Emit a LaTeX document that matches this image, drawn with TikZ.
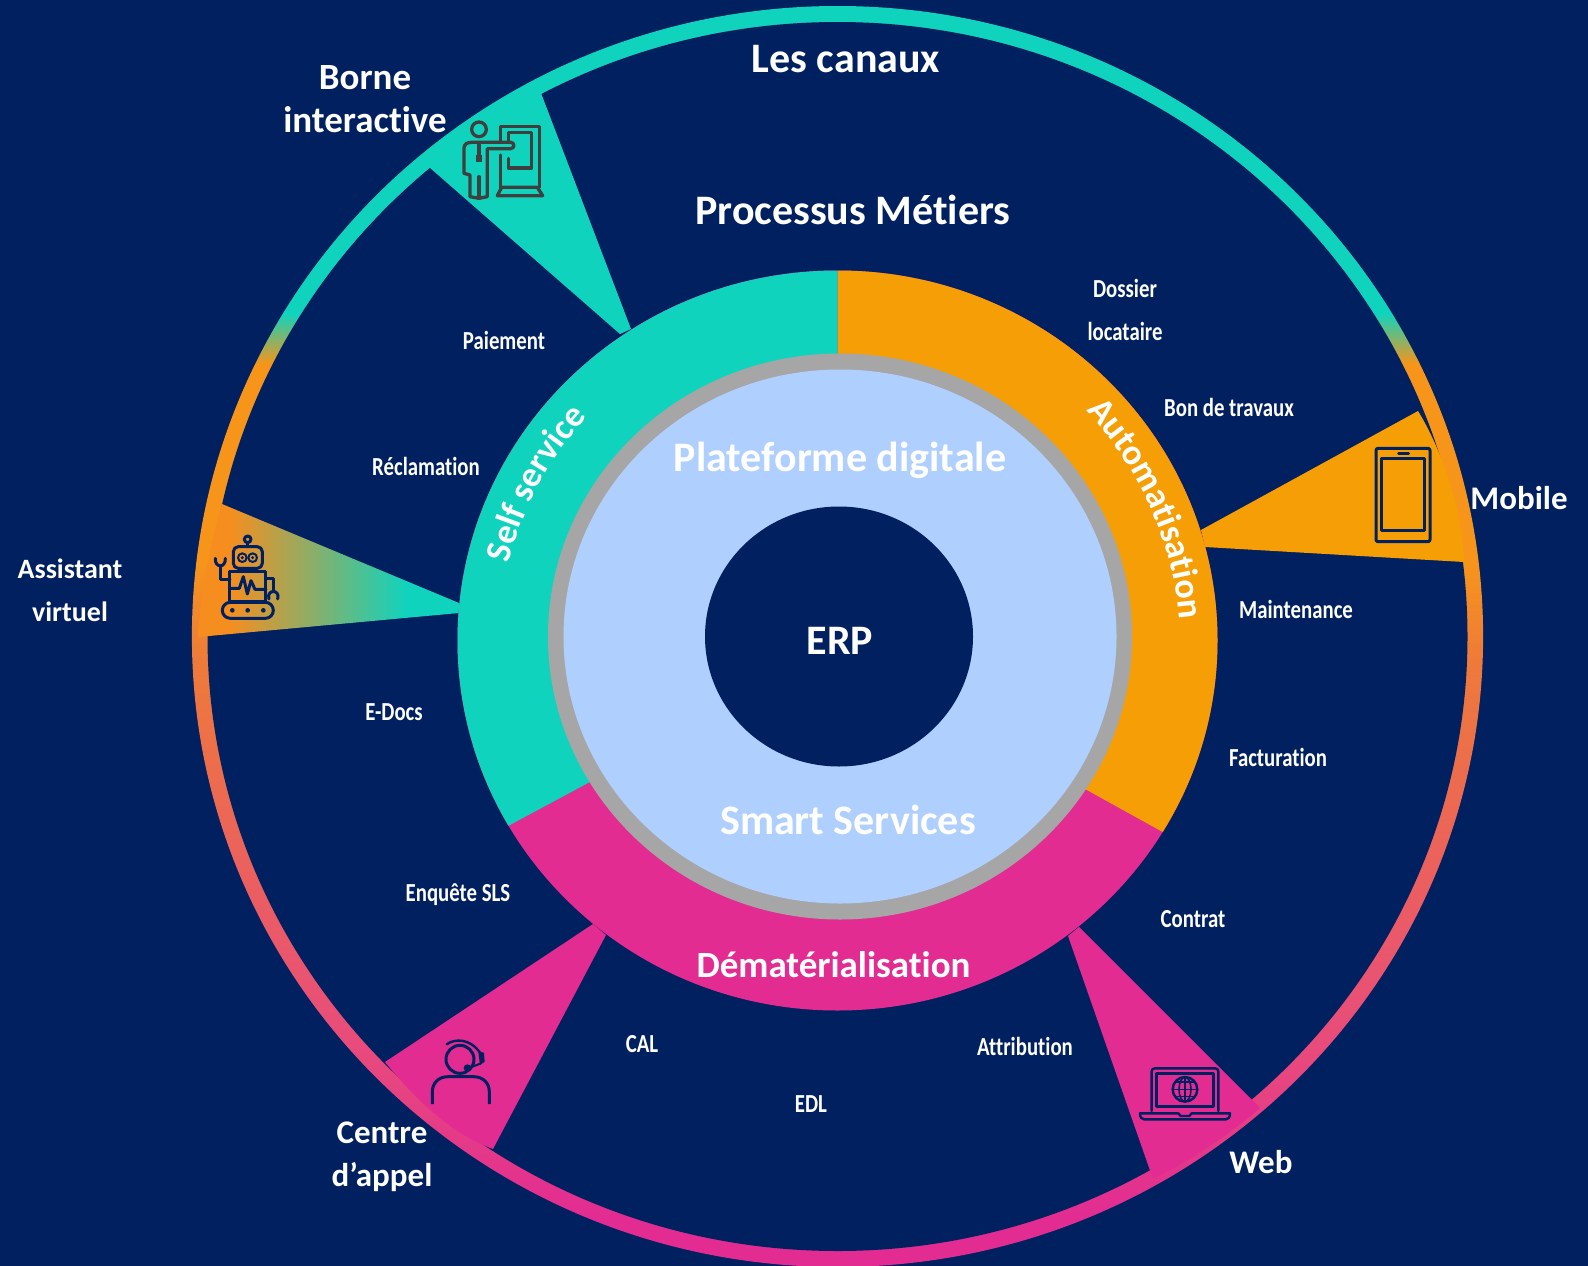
\documentclass[tikz,border=0pt]{standalone}
\usepackage{fontspec}
\setmainfont[Ligatures=NoCommon]{Carlito}
\newfontfamily\narrowfont[FakeStretch=0.8,Ligatures=NoCommon]{Carlito}
\usetikzlibrary{decorations.text}
\definecolor{bgblue}{HTML}{002060}
\definecolor{tealx}{HTML}{10D3BD}
\definecolor{orangex}{HTML}{F59E05}
\definecolor{pinkx}{HTML}{E22C92}
\definecolor{grayx}{HTML}{A6A6A6}
\definecolor{lightx}{HTML}{AFCFFE}
\definecolor{ringorange}{HTML}{F6951A}
\definecolor{ringmid}{HTML}{EE7A3A}
\definecolor{ringrose}{HTML}{E84C7B}
\definecolor{wedgeorange}{HTML}{F68E1F}
\definecolor{icongray}{HTML}{3F3F3F}
\pgfdeclareverticalshading{ringshade}{100bp}{color(0bp)=(pinkx); color(27bp)=(pinkx); color(34bp)=(ringrose); color(49bp)=(ringmid); color(53bp)=(ringorange); color(60.8bp)=(ringorange); color(62.8bp)=(tealx); color(100bp)=(tealx)}
\pgfdeclarehorizontalshading{wedgeshade}{100bp}{color(0bp)=(wedgeorange); color(31bp)=(wedgeorange); color(65bp)=(tealx); color(100bp)=(tealx)}
\tikzset{
  biglabel/.style={text=white, font=\fontsize{42}{42}\selectfont\bfseries, inner sep=0pt, align=center},
  midlabel/.style={text=white, font=\fontsize{37}{42}\selectfont\bfseries, inner sep=0pt, align=center},
  chanlabel/.style={text=white, font=\fontsize{33}{43}\selectfont\bfseries, inner sep=0pt, align=center},
  bornelabel/.style={text=white, font=\fontsize{37}{43}\selectfont\bfseries, inner sep=0pt, align=center},
  assistlabel/.style={text=white, font=\fontsize{28}{43}\selectfont\bfseries, inner sep=0pt, align=center},
  smalllabel/.style={text=white, font=\narrowfont\fontsize{26}{43}\selectfont\bfseries, inner sep=0pt, align=center},
  iconline/.style={line width=3pt, line join=round, line cap=round, draw=bgblue},
  kioskline/.style={line width=3.3pt, line join=round, line cap=round, draw=icongray},
}
\begin{document}
\begin{tikzpicture}[x=1pt,y=-1pt]
\useasboundingbox (0,0) rectangle (1588,1266);
\clip (0,0) rectangle (1588,1266);
\fill[bgblue] (0,0) rectangle (1588,1266);
\coordinate (c) at (837.5,636.5);
% outer ring
\shade[shading=ringshade] (c) ellipse [x radius=645.6, y radius=630.5];
\fill[bgblue] (c) ellipse [x radius=630, y radius=614.5];
% wedges
\fill[tealx] (541,93) -- (631,329) -- (620,334) -- (429,167) .. controls (455,135) and (500,105) .. cycle;
\fill[orangex] (1418,411) .. controls (1436,440) and (1462,500) .. (1464,562) -- (1205,547) -- (1201,530) -- cycle;
\fill[pinkx] (606,935) -- (493,1149) .. controls (455,1135) and (420,1105) .. (385,1062) -- (593,924) -- cycle;
\fill[pinkx] (1068,936) -- (1153,1179) .. controls (1190,1160) and (1225,1138) .. (1260,1108) -- (1079,927) -- cycle;
\shade[shading=wedgeshade] (222,504) -- (459,603) -- (459,613) -- (198,637) .. controls (201,590) and (210,545) .. cycle;
% inner coloured ring
\fill[pinkx] (837.5,640.5) ellipse [x radius=380, y radius=370];
\begin{scope}
\clip (837.5,640.5) ellipse [x radius=380, y radius=370];
\fill[orangex] (837.5,652) -- (837.5,200) -- (1300,200) -- (1300,908) -- cycle;
\fill[tealx] (837.5,649) -- (837.5,200) -- (400,200) -- (400,884) -- cycle;
\end{scope}
\fill[grayx] (840,636.5) ellipse [x radius=292, y radius=283];
\fill[lightx] (840,636.5) ellipse [x radius=276.5, y radius=267];
\fill[bgblue] (839,636.5) ellipse [x radius=134, y radius=130];
% curved labels
\path[decorate, decoration={text along path, text align=center, text color=white, text={|\fontsize{36}{36}\selectfont\bfseries|Self service}}]
  (509.1,562.7) .. controls (522,508.5) and (548.9,458.3) .. (587.1,417);
\path[decorate, decoration={text along path, text align=center, text color=white, text={|\fontsize{36}{36}\selectfont\bfseries|Automatisation}}]
  (1072,396) .. controls (1136,458) and (1178.9,546.2) .. (1180.4,640);
% labels
\node[biglabel] (canaux) at (846,59) {Les canaux};
\node[biglabel] (processus) at (853,210) {Processus Métiers};
\node[biglabel] (plateforme) at (840,460) {Plateforme digitale};
\node[biglabel] (erp) at (840,641) {ERP};
\node[biglabel] (smart) at (848,820) {Smart Services};
\node[midlabel] (demat) at (833.5,965) {Dématérialisation};
\node[bornelabel] (borne) at (365,99.5) {Borne\\interactive};
\node[chanlabel] (mobile) at (1519,498) {Mobile};
\node[assistlabel] (assistant) at (70,590.5) {Assistant\\virtuel};
\node[chanlabel] (centre) at (382,1157) {Centre\\d’appel};
\node[chanlabel] (web) at (1261,1162) {Web};
\node[smalllabel] (dossier) at (1125,310) {Dossier\\locataire};
\node[smalllabel] (bon) at (1229,407) {Bon de travaux};
\node[smalllabel] (maintenance) at (1296,609) {Maintenance};
\node[smalllabel] (facturation) at (1278,757.5) {Facturation};
\node[smalllabel] (contrat) at (1193,919.5) {Contrat};
\node[smalllabel] (attribution) at (1025,1046) {Attribution};
\node[smalllabel] (edl) at (811,1104) {EDL};
\node[smalllabel] (cal) at (642,1044) {CAL};
\node[smalllabel] (enquete) at (458,895) {Enquête SLS};
\node[smalllabel] (edocs) at (394,712) {E-Docs};
\node[smalllabel] (reclamation) at (426,466) {Réclamation};
\node[smalllabel] (paiement) at (504,340) {Paiement};
% kiosk icon
\begin{scope}[shift={(430,80)}, x=0.3333pt, y=-0.3333pt]
\draw[kioskline] (147,148) circle [radius=22];
\draw[kioskline] (172,206) -- (172,350) -- (147,355) -- (120,350) -- (120,285) -- (102,280) -- (102,205) .. controls (102,192) and (112,187) .. (125,187) -- (242,187) .. controls (255,187) and (255,205) .. (242,206) -- cycle;
\draw[kioskline] (147,290) -- (147,355);
\draw[kioskline] (147,190) -- (147,235);
\fill[icongray] (138,225) rectangle (156,245);
\draw[kioskline] (212,185) -- (212,140) -- (328,140) -- (328,322) (212,225) -- (212,322);
\draw[kioskline] (235,185) -- (235,158) -- (305,158) -- (305,264) -- (235,264) -- (235,235);
\draw[kioskline] (215,322) -- (322,322) -- (338,347) -- (202,347) -- cycle;
\end{scope}
% robot icon
\begin{scope}[shift={(190,490)}, x=0.3333pt, y=-0.3333pt]
\draw[iconline] (173,148) circle [radius=10];
\draw[iconline] (173,158) -- (173,170);
\draw[iconline, rounded corners=5pt] (130,170) rectangle (217,235);
\draw[iconline, line width=2pt] (157,203) circle [radius=13];
\draw[iconline, line width=2pt] (188,203) circle [radius=13];
\fill[bgblue] (157,203) circle [radius=5];
\fill[bgblue] (188,203) circle [radius=5];
\draw[iconline] (160,235) -- (160,245) (187,235) -- (187,245);
\draw[iconline] (120,245) rectangle (228,335);
\draw[iconline] (120,295) -- (148,295) -- (160,260) -- (172,312) -- (183,272) -- (195,298) -- (228,298);
\draw[iconline] (120,268) -- (92,268) -- (92,228);
\draw[iconline] (76,205) .. controls (74,235) and (108,235) .. (106,205);
\draw[iconline] (228,265) -- (250,265) -- (250,303);
\draw[iconline] (237,327) .. controls (228,297) and (272,297) .. (263,327);
\draw[iconline, rounded corners=8pt] (97,337) rectangle (250,385);
\fill[bgblue] (127,361) circle [radius=7] (173,361) circle [radius=7] (220,361) circle [radius=7];
\end{scope}
% headset icon
\begin{scope}[shift={(380,1010)}, x=0.3333pt, y=-0.3333pt]
\draw[iconline, line cap=butt] (240,148) circle [radius=42];
\draw[iconline, line cap=butt] (157,282) -- (157,245) .. controls (157,220) and (175,200) .. (205,200) -- (280,200) .. controls (310,200) and (328,220) .. (328,245) -- (328,282);
\draw[iconline, line width=2.4pt] (200,103) .. controls (225,85) and (270,85) .. (300,128);
\fill[bgblue] (295,125) -- (312,128) -- (314,155) -- (300,165) -- cycle;
\draw[iconline, line width=2pt] (303,160) -- (265,175);
\fill[bgblue] (262,174) circle [radius=11];
\end{scope}
% laptop icon
\begin{scope}[shift={(1110,1040)}, x=0.3333pt, y=-0.3333pt]
\draw[iconline, rounded corners=3pt, line width=2.4pt] (125,213) -- (125,85) -- (325,85) -- (325,213);
\draw[iconline, line width=2.4pt] (140,100) rectangle (310,200);
\draw[iconline, line width=2.4pt] (225,148) circle [radius=37];
\draw[iconline, line width=1.6pt] (225,111) -- (225,185) (188,148) -- (262,148) (197,126) -- (253,126) (197,170) -- (253,170);
\draw[iconline, line width=1.6pt] (225,148) ellipse [x radius=18, y radius=37];
\draw[iconline, line width=2.4pt] (90,220) -- (205,220) -- (212,228) -- (238,228) -- (245,220) -- (360,220) .. controls (360,232) and (355,238) .. (348,238) -- (102,238) .. controls (95,238) and (90,232) .. (90,220) -- cycle;
\end{scope}
% phone icon
\begin{scope}[shift={(1340,400)}, x=0.3333pt, y=-0.3333pt]
\draw[iconline, rounded corners=2pt] (108,145) rectangle (270,425);
\draw[iconline, line cap=butt] (125,177) rectangle (253,392);
\draw[iconline, line width=3pt] (176,161) -- (206,161);
\end{scope}
\end{tikzpicture}
\end{document}
